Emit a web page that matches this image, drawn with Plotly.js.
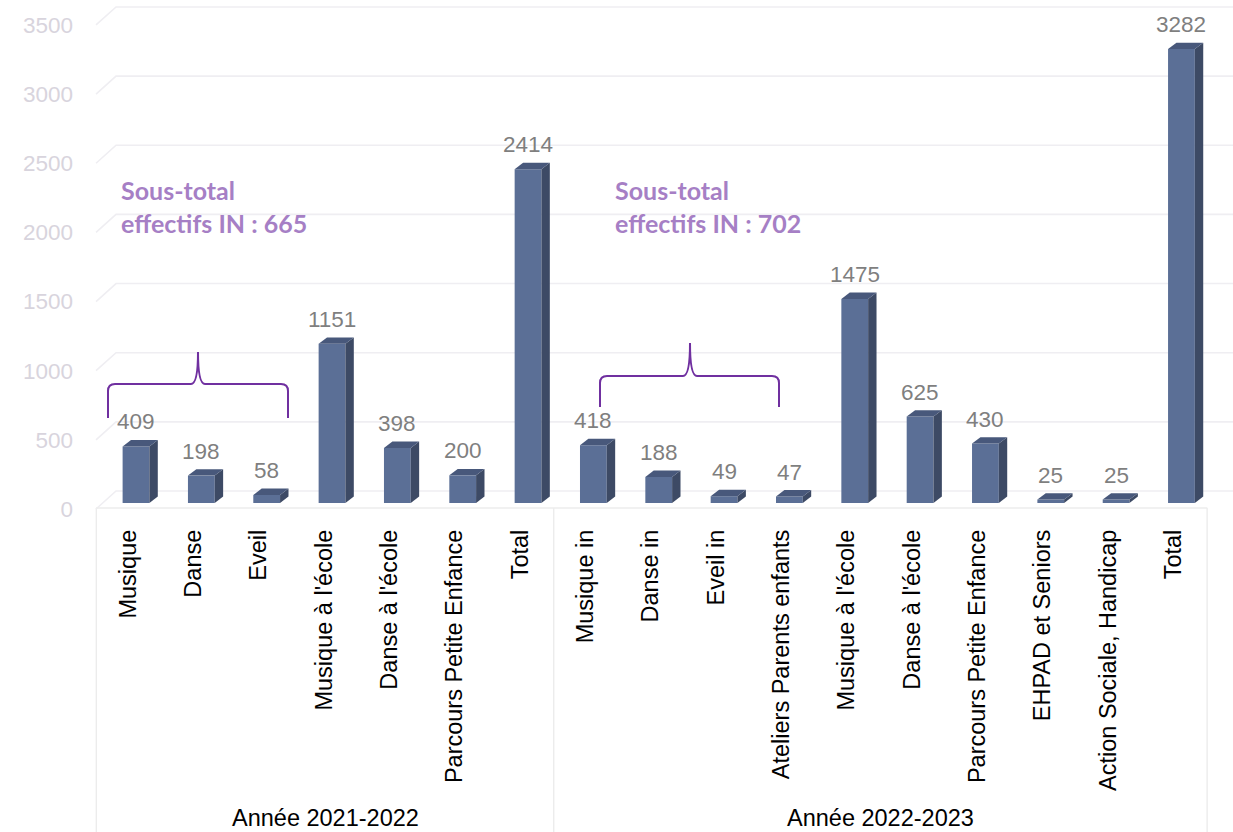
<!DOCTYPE html>
<html><head><meta charset="utf-8">
<script src="https://cdn.plot.ly/plotly-3.0.1.min.js"></script>
<style>html,body{margin:0;padding:0;background:#fff}#chart{width:1233px;height:832px}</style>
</head><body><div id="chart"></div>
<script>
// ---- data ----
const categories = ["Musique","Danse","Eveil","Musique à l'école","Danse à l'école","Parcours Petite Enfance","Total",
  "Musique in","Danse in","Eveil in","Ateliers Parents enfants","Musique à l'école","Danse à l'école","Parcours Petite Enfance","EHPAD et Seniors","Action Sociale, Handicap","Total"];
const values = [409,198,58,1151,398,200,2414,418,188,49,47,1475,625,430,25,25,3282];
const groupLabels = ["Année 2021-2022","Année 2022-2023"];
const groupSizes = [7,10];
const subtotalLabels = ["Sous-total<br>effectifs IN : 665","Sous-total<br>effectifs IN : 702"];
const yTicks = [0,500,1000,1500,2000,2500,3000,3500];

// ---- layout geometry ----
const W=1233, H=832, ML=90, MR=0, MT=0, MB=320;
const PW=W-ML-MR, PH=H-MT-MB;
const STEP=65.34, X0PX=136;          // pixel of first category, pixels per category
const K=0.1383, BASEPX=503;          // pixels per unit, pixel of value 0
const xRange=[(ML-X0PX)/STEP,(W-MR-X0PX)/STEP];
const yRange=[-(MT+PH-BASEPX)/K,(BASEPX-MT)/K];
const BW=0.41;                       // bar width (category units)
const DX=8.4/STEP, DY=6.4/K;         // 3D depth offsets in data units
const px2x = p => (p-ML)/PW, px2y = p => (MT+PH-p)/PH;

const xs = categories.map((_,i)=>i);
const frontColor='#5b6f96', sideColor='#3d4a65', topColor='#48587b';
const FONT='Liberation Sans, Arial, sans-serif';

const shapes=[];
// back-wall gridlines with left wall diagonal
yTicks.forEach(v=>{
  shapes.push({type:'path',xref:'x',yref:'y',xsizemode:'pixel',ysizemode:'pixel',xanchor:-0.5,yanchor:v,
    path:'M-7.3,-6 L12.7,12 L1140,12',line:{color:'#efeef2',width:1.6},layer:'below'});
});
// floor front edge
shapes.push({type:'path',xref:'x',yref:'y',xsizemode:'pixel',ysizemode:'pixel',xanchor:-0.5,yanchor:0,
  path:'M-7.3,-5 L1104,-5',line:{color:'#ececec',width:1.4},layer:'below'});
// category box separators
let acc=-0.5; const bounds=[acc]; groupSizes.forEach(n=>{acc+=n;bounds.push(acc);});
bounds.forEach(b=>{
  shapes.push({type:'line',xref:'x',yref:'paper',xsizemode:'pixel',xanchor:b,x0:-7,x1:-7,
    y0:px2y(508),y1:px2y(H),line:{color:'#ececec',width:1.4},layer:'below'});
});
// 3D faces of bars
xs.forEach((i)=>{
  const v=values[i], l=i-BW/2, r=i+BW/2;
  shapes.push({type:'path',xref:'x',yref:'y',layer:'above',fillcolor:sideColor,line:{width:0},
    path:`M${r},0 L${r+DX},${DY} L${r+DX},${v+DY} L${r},${v} Z`});
  shapes.push({type:'path',xref:'x',yref:'y',layer:'above',fillcolor:topColor,line:{width:0},
    path:`M${l},${v} L${r},${v} L${r+DX},${v+DY} L${l+DX},${v+DY} Z`});
});
// braces (decoration)
function brace(x0,x1,xm,yb,yh,yt){
  const r=7;
  const P=(x,y)=>`${px2x(x)},${px2y(y)}`;
  return `M${P(x0,yb)} L${P(x0,yh+r)} Q${P(x0,yh)} ${P(x0+r,yh)} L${P(xm-r,yh)} Q${P(xm,yh)} ${P(xm,yt)} Q${P(xm,yh)} ${P(xm+r,yh)} L${P(x1-r,yh)} Q${P(x1,yh)} ${P(x1,yh+r)} L${P(x1,yb)}`;
}
shapes.push({type:'path',xref:'paper',yref:'paper',path:brace(108,288,198,418,384,352),line:{color:'#7030a0',width:2}});
shapes.push({type:'path',xref:'paper',yref:'paper',path:brace(600,779,690,407,376,343),line:{color:'#7030a0',width:2}});

const annotations=[];
xs.forEach(i=>{
  annotations.push({x:i,y:values[i],xref:'x',yref:'y',text:String(values[i]),showarrow:false,
    yanchor:'bottom',yshift:10,font:{family:FONT,size:22.5,color:'#7f7f7f'}});
});
groupLabels.forEach((g,k)=>{
  annotations.push({x:(bounds[k]+bounds[k+1])/2,xshift:-7,y:px2y(H),xref:'x',yref:'paper',yanchor:'bottom',yshift:-1,
    text:g,showarrow:false,font:{family:FONT,size:23.5,color:'#000'}});
});
const subPos=[[119,173],[613,173]];
subtotalLabels.forEach((t,k)=>{
  annotations.push({x:px2x(subPos[k][0]),y:px2y(subPos[k][1]),xref:'paper',yref:'paper',xanchor:'left',yanchor:'top',
    align:'left',text:'<b>'+t+'</b>',showarrow:false,font:{family:'Lato, Open Sans, sans-serif',size:25,color:'#a67fc5'}});
});

const data=[{type:'bar',x:xs,y:values,width:BW,marker:{color:frontColor,line:{width:0}},hoverinfo:'skip'}];

const layout={
  width:W,height:H,margin:{l:ML,r:MR,t:MT,b:MB,pad:0},
  paper_bgcolor:'#fff',plot_bgcolor:'rgba(0,0,0,0)',showlegend:false,
  xaxis:{type:'linear',range:xRange,tickvals:xs,ticktext:categories,tickangle:-90,showgrid:false,zeroline:false,
    showline:false,ticks:'',ticklabelshift:-8,ticklabelstandoff:12,
    tickfont:{family:FONT,size:23.5,color:'#000'}},
  yaxis:{range:yRange,tickvals:yTicks,showgrid:false,zeroline:false,showline:false,ticks:'',
    ticklabelshift:6,ticklabelstandoff:16,
    tickfont:{family:FONT,size:22.5,color:'#d8d4dd'}},
  shapes:shapes,annotations:annotations
};
Plotly.newPlot('chart',data,layout,{displayModeBar:false,staticPlot:true});
</script></body></html>
